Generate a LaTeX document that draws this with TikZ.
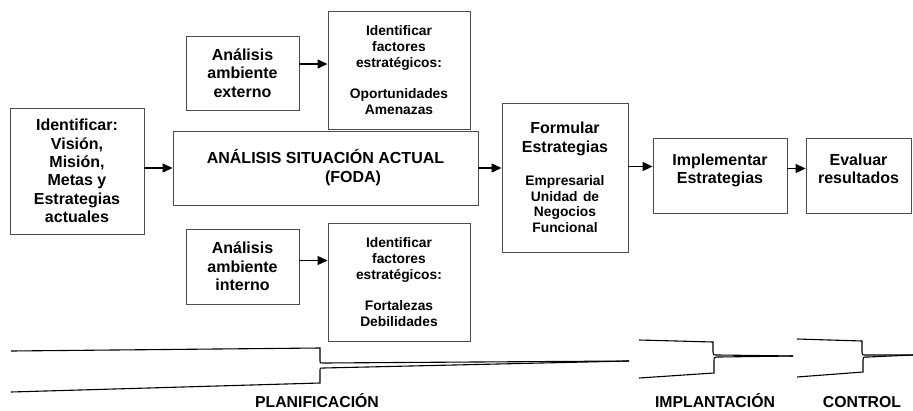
\documentclass[tikz,border=0pt]{standalone}
\usepackage{fontspec}
\setmainfont{Liberation Sans}
\usetikzlibrary{arrows.meta}

\begin{document}
\begin{tikzpicture}[x=1pt,y=-1pt,
    blk/.style={draw=black!70,line width=0.9pt,inner sep=0pt,align=center,
        font=\bfseries\fontsize{16}{18.3}\selectfont},
    small/.style={font=\bfseries\fontsize{13.8}{15.8}\selectfont},
    arr/.style={line width=1.2pt,-{Triangle[length=10pt,width=9pt]}},
    brc/.style={line width=1.1pt},
    lbl/.style={anchor=base,font=\bfseries\fontsize{15.8}{18}\selectfont}]

\useasboundingbox (0,0) rectangle (913,410);

\node[blk,minimum width=134pt,minimum height=126pt] (N_id) at (77,171)
    {Identificar:\\Visión,\\Misión,\\Metas y\\Estrategias\\actuales};
\node[blk,minimum width=113pt,minimum height=74pt] (N_ext) at (242.5,73)
    {Análisis\\ambiente\\externo};
\node[blk,small,minimum width=142pt,minimum height=118pt] (N_fext) at (399,70)
    {Identificar\\factores\\estratégicos:\\[15.8pt]Oportunidades\\Amenazas};
\node[blk,minimum width=305pt,minimum height=74pt] (N_foda) at (325.5,168)
    {ANÁLISIS SITUACIÓN ACTUAL\\[0.7pt]\hspace*{55pt}(FODA)};
\node[blk,minimum width=113pt,minimum height=75pt] (N_int) at (242.5,266.5)
    {Análisis\\ambiente\\interno};
\node[blk,small,minimum width=142pt,minimum height=118pt] (N_fint) at (399,282)
    {Identificar\\factores\\estratégicos:\\[15.8pt]Fortalezas\\Debilidades};
\node[blk,minimum width=126pt,minimum height=149pt,text width=120pt] (N_form) at (565,177.5)
    {{Formular\\Estrategias\par}\vspace{18pt}
     {\fontsize{13.8}{15.6}\selectfont Empresarial\\Unidad de\\Negocios\\Funcional\par}\vspace{8pt}};
\node[blk,minimum width=134pt,minimum height=75pt] (N_impl) at (720,175.5)
    {Implementar\\Estrategias\\[-4pt]\mbox{}};
\node[blk,minimum width=105pt,minimum height=75pt] (N_eval) at (858.5,175.5)
    {Evaluar\\resultados\\[-4pt]\mbox{}};

% flechas
\draw[arr] ([yshift=9pt]N_ext.east) -- ([yshift=9pt]N_ext.east -| N_fext.west);
\draw[arr] ([yshift=6pt]N_int.east) -- ([yshift=6pt]N_int.east -| N_fint.west);
\draw[arr] (N_id.east |- N_foda.west) -- (N_foda.west);
\draw[arr] (N_foda.east) -- (N_foda.east -| N_form.west);
\draw[arr] ([yshift=9pt]N_impl.west -| N_form.east) -- ([yshift=9pt]N_impl.west);
\draw[arr] ([yshift=7pt]N_impl.east) -- ([yshift=7pt]N_eval.west);

% llaves
\draw[brc] (11,351) -- (320,348) -- (320,361) .. controls (320,363) .. (323,363) -- (629,361);
\draw[brc] (11,392) -- (320,383) -- (320,370) .. controls (320,368) .. (323,368) -- (629,361);
\draw[brc] (639,340) -- (713,342) -- (713,352) .. controls (713,355) .. (718,355) -- (793,356);
\draw[brc] (639,378) -- (714,373) -- (714,361) .. controls (714,357) .. (719,357) -- (793,356);
\draw[brc] (797,339) -- (862,341) -- (862,352) .. controls (862,355) .. (867,355) -- (913,355);
\draw[brc] (797,377) -- (863,372) -- (863,360) .. controls (863,357) .. (868,357) -- (913,355);

\node[lbl] (L_plan) at (317,407) {PLANIFICACIÓN};
\node[lbl] (L_impl) at (715,407) {IMPLANTACIÓN};
\node[lbl] (L_ctrl) at (862,407) {CONTROL};

\end{tikzpicture}
\end{document}
